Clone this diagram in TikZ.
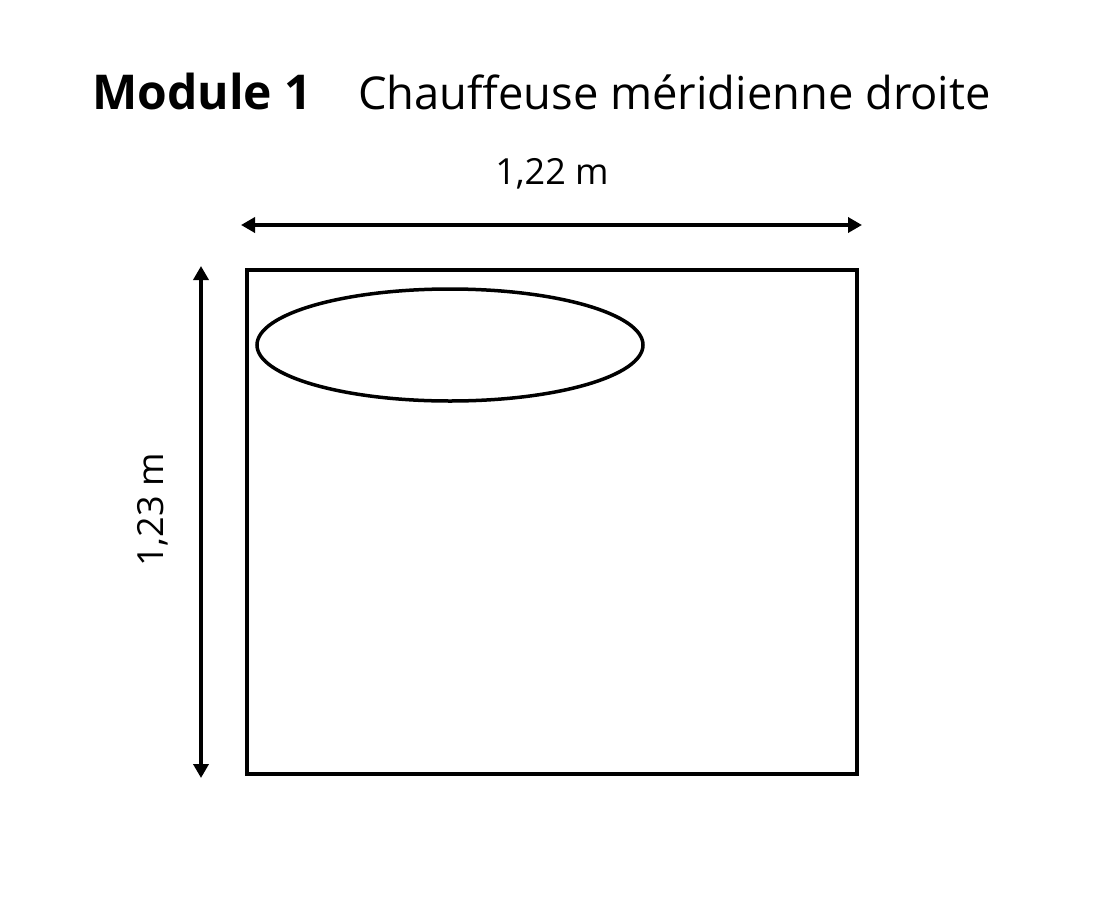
\documentclass[tikz,border=0pt]{standalone}
\usepackage{fontspec}
\setmainfont{Open Sans}
\usetikzlibrary{arrows.meta}
\tikzset{
  outline/.style={line width=3.5pt},
  dimline/.style={line width=3.5pt, {Triangle[length=14pt,width=15pt]}-{Triangle[length=14pt,width=15pt]}},
  dimlabel/.style={font=\fontsize{36}{40}\selectfont, inner sep=0pt},
}
\begin{document}
\begin{tikzpicture}[x=1pt,y=-1pt]
  \useasboundingbox (0,0) rectangle (1100,900);
  \node[anchor=base west, inner sep=0pt, font=\fontsize{48}{56}\selectfont\bfseries] (title) at (92,109) {Module 1};
  \node[anchor=base west, inner sep=0pt, font=\fontsize{45.3}{52}\selectfont] (subtitle) at (358,109) {Chauffeuse méridienne droite};
  \draw[outline] (247,270) rectangle (857,774);
  \draw[outline] (450,345) ellipse [x radius=193, y radius=56];
  \coordinate (wl) at (241,225);
  \coordinate (wr) at (862,225);
  \coordinate (ht) at (201,266);
  \coordinate (hb) at (201,778);
  \draw[dimline] (wl) -- (wr);
  \draw[dimline] (ht) -- (hb);
  \node[dimlabel] (width) at (552,174) {1,22 m};
  \node[dimlabel, rotate=90] (height) at (153,510) {1,23 m};
\end{tikzpicture}
\end{document}
